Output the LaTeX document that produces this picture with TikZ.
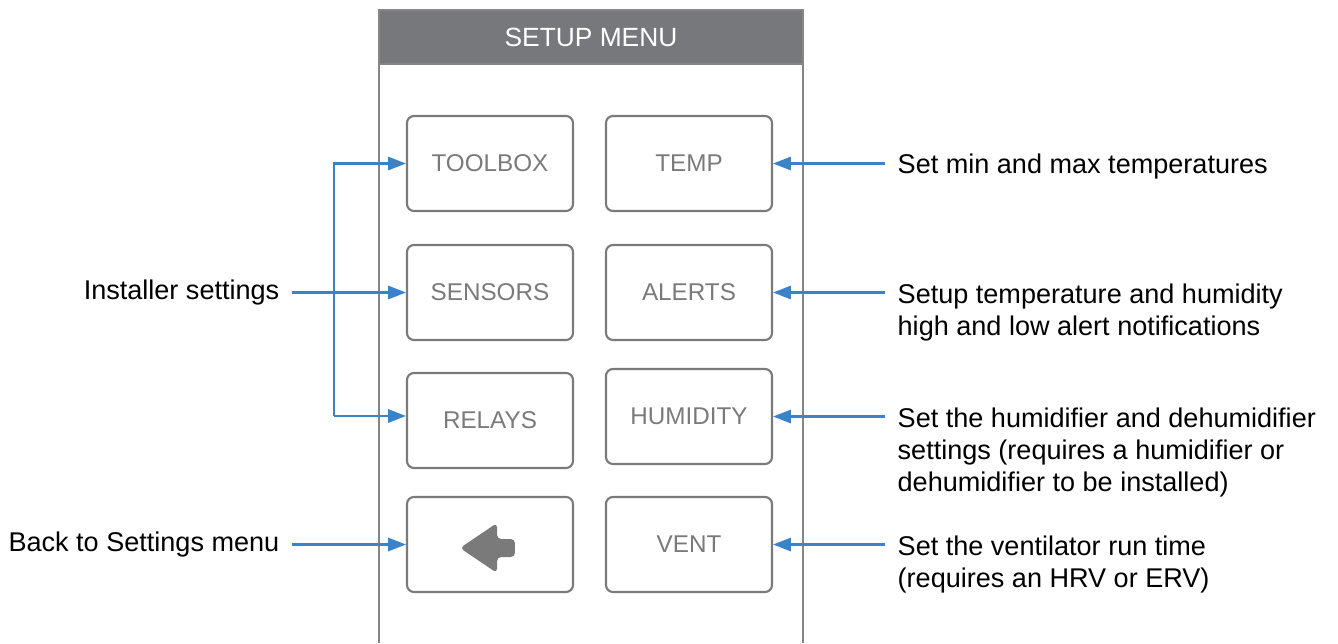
\documentclass[tikz,border=0pt]{standalone}
\usepackage{fontspec}
\setmainfont{Liberation Sans}
\usetikzlibrary{arrows.meta}
\definecolor{headgray}{HTML}{77787B}
\definecolor{btngray}{HTML}{7A7A7A}
\definecolor{framegray}{HTML}{868686}
\definecolor{arrowblue}{HTML}{3B83C8}
\tikzstyle{button} = [rectangle, rounded corners=2pt, minimum width=1.66cm, minimum height=0.95cm, text centered, draw=btngray, line width=0.6pt, text=btngray, font=\fontsize{6.9}{8}\selectfont]
\tikzstyle{headbar} = [rectangle, minimum width=4.24cm, minimum height=0.54cm, fill=headgray, draw=framegray, line width=0.6pt, text=white, font=\fontsize{7.5}{9}\selectfont]
\tikzstyle{note} = [inner xsep=0.12cm, inner ysep=0pt, align=left, font=\fontsize{7.7}{9.1}\selectfont]
\tikzstyle{frameline} = [framegray, line width=0.6pt]
\tikzstyle{arrow} = [arrowblue, line width=0.6pt, -{Triangle[length=5.1pt,width=3.8pt]}]

\begin{document}
\begin{tikzpicture}
\useasboundingbox (0,0) rectangle (13.38,-6.43);

% phone frame
\draw [frameline] (3.79,-6.43) -- (3.79,-0.10);
\draw [frameline] (8.03,-6.43) -- (8.03,-0.10);
\node (header) [headbar] at (5.91,-0.37) {SETUP MENU};

% buttons
\node (toolbox) [button] at (4.90,-1.635) {TOOLBOX};
\node (temp) [button] at (6.89,-1.635) {TEMP};
\node (sensors) [button] at (4.90,-2.925) {SENSORS};
\node (alerts) [button] at (6.89,-2.925) {ALERTS};
\node (relays) [button] at (4.90,-4.205) {RELAYS};
\node (humidity) [button] at (6.89,-4.165) {HUMIDITY};
\node (back) [button] at (4.90,-5.445) {};
\node (vent) [button] at (6.89,-5.445) {VENT};

% back icon
\begin{scope}[shift={(back.center)}]
\fill [btngray, rounded corners=1.2pt] (-0.30,-0.035) -- (0.07,0.215) -- (0.07,0.055) -- (0.25,0.055) -- (0.25,-0.125) -- (0.07,-0.125) -- (0.07,-0.285) -- cycle;
\end{scope}

% notes
\node (installer) [note, anchor=east] at (2.92,-2.925) {Installer settings};
\node (backnote) [note, anchor=east] at (2.92,-5.445) {Back to Settings menu};
\node (tempnote) [note, anchor=west] at (8.85,-1.665) {Set min and max temperatures};
\node (alertnote) [note, anchor=north west] at (8.85,-2.83) {Setup temperature and humidity\\high and low alert notifications};
\node (humnote) [note, anchor=north west] at (8.85,-4.07) {Set the humidifier and dehumidifier\\settings (requires a humidifier or\\dehumidifier to be installed)};
\node (ventnote) [note, anchor=north west] at (8.85,-5.35) {Set the ventilator run time\\(requires an HRV or ERV)};

\coordinate (bktop) at (3.34,-1.65);
\coordinate (bkbot) at (3.34,-4.16);

\draw [arrow] (bkbot) |- (toolbox.west);
\draw [arrow] (installer.east) -- (sensors.west);
\draw [arrow] (bkbot) -- (bkbot -| relays.west);
\draw [arrow] (backnote.east) -- (back.west);
\draw [arrow] (temp.east -| tempnote.west) -- (temp.east);
\draw [arrow] (alerts.east -| alertnote.west) -- (alerts.east);
\draw [arrow] (humidity.east -| humnote.west) -- (humidity.east);
\draw [arrow] (vent.east -| ventnote.west) -- (vent.east);

\end{tikzpicture}
\end{document}
